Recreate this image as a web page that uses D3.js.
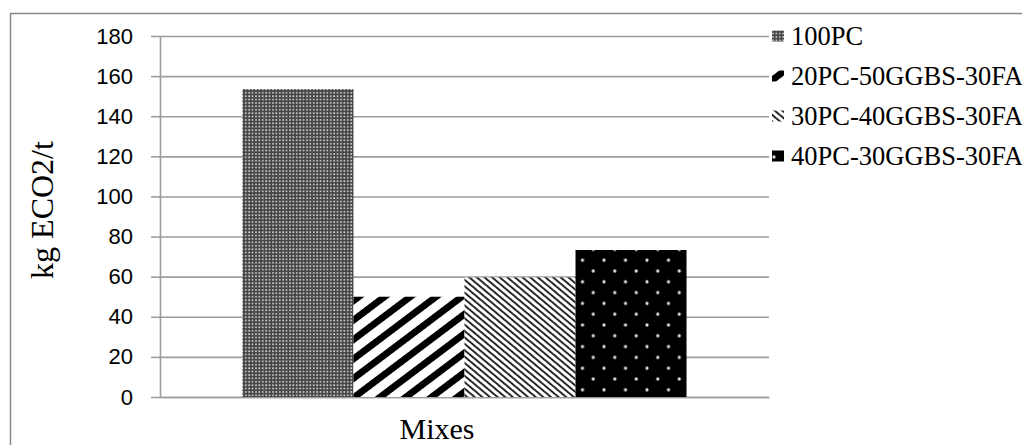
<!DOCTYPE html>
<html>
<head>
<meta charset="utf-8">
<script src="https://cdn.jsdelivr.net/npm/d3@7"></script>
<style>
  body { margin: 0; background: #fff; }
  svg { display: block; }
</style>
</head>
<body>
<svg id="chart"></svg>
<script>
// values
const categories = ["Mixes"];
const series = ["100PC", "20PC-50GGBS-30FA", "30PC-40GGBS-30FA", "40PC-30GGBS-30FA"];
const values = [153.5, 50, 59.6, 73.3];
const yTicks = [0, 20, 40, 60, 80, 100, 120, 140, 160, 180];

const width = 1022, height = 445;
const plot = { left: 160, right: 769, top: 36, bottom: 397 };
const gridColor = "#9d9d9d";

const svg = d3.select("#chart")
              .attr("width", width)
              .attr("height", height);

// fill patterns
const defs = svg.append("defs");

const pChecker = defs.append("pattern")
    .attr("id", "pat0")
    .attr("patternUnits", "userSpaceOnUse")
    .attr("width", 3.4).attr("height", 3.4);
pChecker.append("rect").attr("width", 3.4).attr("height", 3.4).attr("fill", "#444");
pChecker.append("circle").attr("cx", 1).attr("cy", 1).attr("r", 0.95).attr("fill", "#d0d0d0");

const pWide = defs.append("pattern")
    .attr("id", "pat1")
    .attr("patternUnits", "userSpaceOnUse")
    .attr("width", 15.5).attr("height", 15.5)
    .attr("patternTransform", "rotate(53)");
pWide.append("rect").attr("width", 15.5).attr("height", 15.5).attr("fill", "#fff");
pWide.append("rect").attr("width", 6.8).attr("height", 15.5).attr("fill", "#000");

const pThin = defs.append("pattern")
    .attr("id", "pat2")
    .attr("patternUnits", "userSpaceOnUse")
    .attr("width", 4.9).attr("height", 4.9)
    .attr("patternTransform", "rotate(-50)");
pThin.append("rect").attr("width", 4.9).attr("height", 4.9).attr("fill", "#fff");
pThin.append("rect").attr("width", 1.9).attr("height", 4.9).attr("fill", "#222");

const pDots = defs.append("pattern")
    .attr("id", "pat3")
    .attr("patternUnits", "userSpaceOnUse")
    .attr("x", 2).attr("y", 1)
    .attr("width", 21.5).attr("height", 21.6);
pDots.append("rect").attr("width", 21.5).attr("height", 21.6).attr("fill", "#000");
[[0, 0], [21.5, 0], [0, 21.6], [21.5, 21.6], [10.75, 10.8]].forEach(([cx, cy]) => {
    pDots.append("circle").attr("cx", cx).attr("cy", cy).attr("r", 1.6).attr("fill", "#e2e2e2");
});

const fills = ["url(#pat0)", "url(#pat1)", "url(#pat2)", "url(#pat3)"];

// chart frame
svg.append("rect")
   .attr("x", 10.5).attr("y", 13.5)
   .attr("width", 1100).attr("height", 600)
   .attr("fill", "none")
   .attr("stroke", "#8a8a8a")
   .attr("stroke-width", 1.5);

// scales
const y = d3.scaleLinear().domain([0, 180]).range([plot.bottom, plot.top]);
const x0 = d3.scaleBand().domain(categories).range([plot.left, plot.right]);
const x1 = d3.scaleBand().domain(series)
             .range([0, x0.bandwidth()])
             .paddingInner(0)
             .paddingOuter(0.743);

// gridlines
svg.append("g")
   .attr("transform", `translate(${plot.left},0)`)
   .call(d3.axisLeft(y).tickValues(yTicks).tickSize(-(plot.right - plot.left)).tickFormat(""))
   .call(g => g.select(".domain").remove())
   .call(g => g.selectAll("line").attr("stroke", gridColor).attr("stroke-width", 1.6));

// y axis
const yAxis = svg.append("g")
   .attr("transform", `translate(${plot.left},0)`)
   .call(d3.axisLeft(y).tickValues(yTicks).tickSize(9).tickPadding(18).tickSizeOuter(0));
yAxis.select(".domain").attr("stroke", gridColor).attr("stroke-width", 1.6);
yAxis.selectAll("line").attr("stroke", gridColor).attr("stroke-width", 1.6);
yAxis.selectAll("text")
     .attr("fill", "#000")
     .attr("font-family", "'Liberation Sans', Arial, sans-serif")
     .attr("font-size", "22px");

// x axis
svg.append("g")
   .attr("transform", `translate(0,${plot.bottom})`)
   .call(d3.axisBottom(x0).tickSize(0).tickFormat(""))
   .call(g => g.select(".domain").attr("stroke", gridColor).attr("stroke-width", 1.6));

// bars
svg.append("g")
   .selectAll("rect")
   .data(series)
   .enter().append("rect")
   .attr("x", d => x0(categories[0]) + x1(d))
   .attr("y", (d, i) => y(values[i]))
   .attr("width", x1.bandwidth())
   .attr("height", (d, i) => y(0) - y(values[i]))
   .attr("fill", (d, i) => fills[i]);

// axis titles
svg.append("text")
   .attr("x", 437)
   .attr("y", 439)
   .attr("text-anchor", "middle")
   .attr("font-family", "'Liberation Serif', 'Times New Roman', serif")
   .attr("font-size", "30px")
   .text("Mixes");

svg.append("text")
   .attr("transform", "translate(53,210) rotate(-90)")
   .attr("text-anchor", "middle")
   .attr("font-family", "'Liberation Serif', 'Times New Roman', serif")
   .attr("font-size", "32px")
   .text("kg ECO2/t");

// legend
const legend = svg.append("g")
   .selectAll("g")
   .data(series)
   .enter().append("g")
   .attr("transform", (d, i) => `translate(772,${36 + i * 40})`);

legend.append("rect")
   .attr("x", 0).attr("y", -5.5)
   .attr("width", 12).attr("height", 11)
   .attr("fill", (d, i) => fills[i]);

legend.append("text")
   .attr("x", 19)
   .attr("y", 0)
   .attr("dy", "0.35em")
   .attr("font-family", "'Liberation Serif', 'Times New Roman', serif")
   .attr("font-size", "26.5px")
   .text(d => d);
</script>
</body>
</html>
